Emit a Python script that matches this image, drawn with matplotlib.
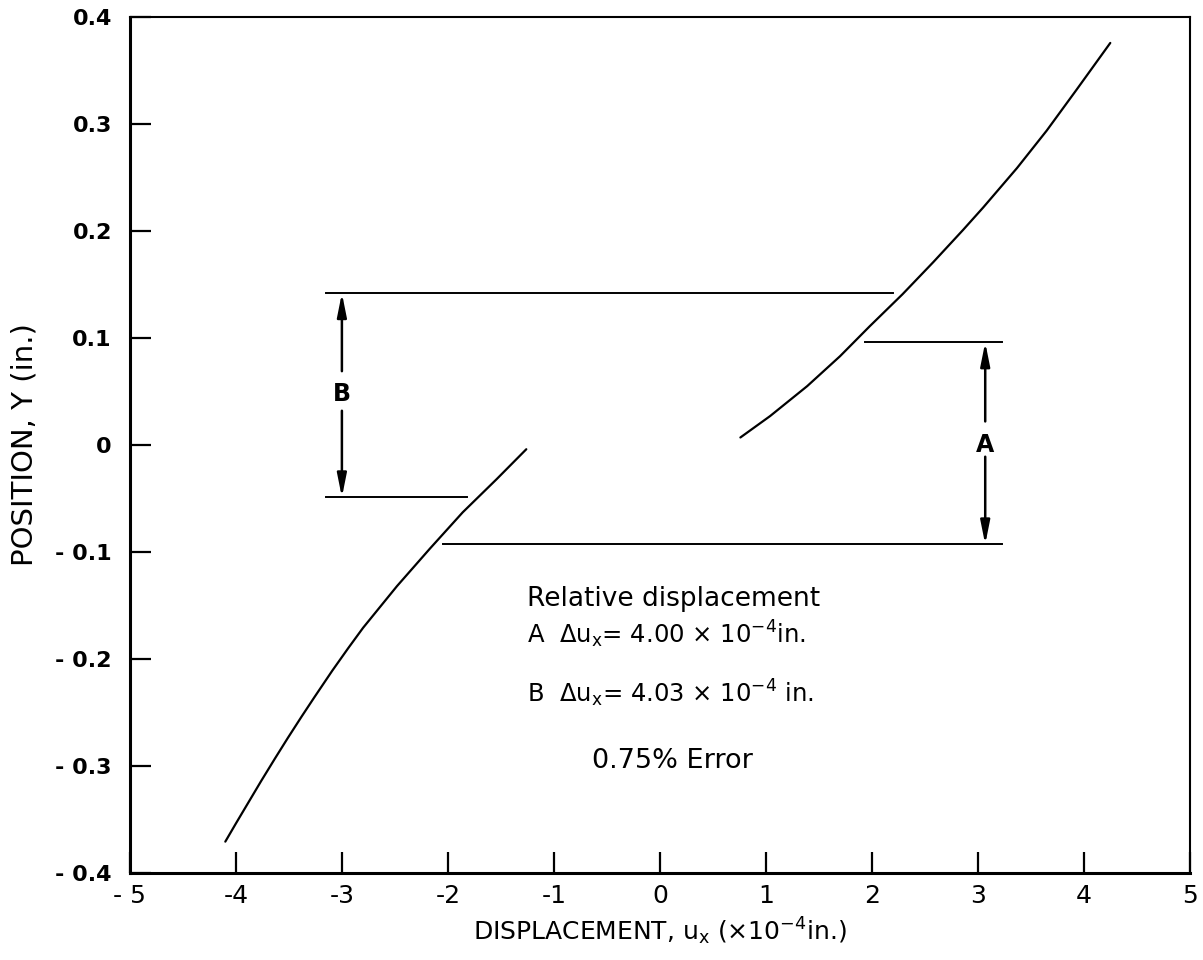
import matplotlib.pyplot as plt

plt.rcParams['font.family'] = ['DejaVu Sans']
plt.rcParams['mathtext.fontset'] = 'dejavusans'

# lower (negative) branch of the displacement profile
lower_ux = [-4.10, -4.00, -3.88, -3.76, -3.63, -3.51, -3.38, -3.26, -3.09,
            -2.94, -2.80, -2.48, -2.17, -1.86, -1.54, -1.26]
lower_y = [-0.371, -0.354, -0.334, -0.314, -0.293, -0.274, -0.254, -0.236, -0.211,
           -0.190, -0.171, -0.132, -0.097, -0.063, -0.032, -0.004]

# upper (positive) branch
upper_ux = [0.76, 1.04, 1.39, 1.70, 1.98, 2.29, 2.58, 2.86, 3.05, 3.37, 3.65, 3.93, 4.25]
upper_y = [0.007, 0.027, 0.055, 0.083, 0.111, 0.141, 0.171, 0.201, 0.222, 0.259,
           0.294, 0.332, 0.376]

# dimension lines: (y, x_start, x_end)
b_top = (0.142, -3.15, 2.20)
b_bottom = (-0.049, -3.15, -1.82)
a_top = (0.096, 1.94, 3.23)
a_bottom = (-0.093, -2.05, 3.23)
b_x, b_label_y, b_gap = -3.0, 0.048, (0.069, 0.032)
a_x, a_label_y, a_gap = 3.07, 0.0, (0.022, -0.011)

xticks = [-5, -4, -3, -2, -1, 0, 1, 2, 3, 4, 5]
xticklabels = ['- 5', '-4', '-3', '-2', '-1', '0', '1', '2', '3', '4', '5']
yticks = [-0.4, -0.3, -0.2, -0.1, 0, 0.1, 0.2, 0.3, 0.4]
yticklabels = ['- 0.4', '- 0.3', '- 0.2', '- 0.1', '0', '0.1', '0.2', '0.3', '0.4']

fig = plt.figure(figsize=(12.03, 9.6), dpi=100)
ax = fig.add_axes([0.108, 0.091, 0.881, 0.891])

ax.plot(lower_ux, lower_y, color='black', lw=1.6, solid_capstyle='round')
ax.plot(upper_ux, upper_y, color='black', lw=1.6, solid_capstyle='round')

for y, x0, x1 in (b_top, b_bottom, a_top, a_bottom):
    ax.plot([x0, x1], [y, y], color='black', lw=1.4)

arrow = dict(arrowstyle='-|>,head_length=1.0,head_width=0.2', color='black',
             lw=1.8, shrinkA=0, shrinkB=0, mutation_scale=14)
ax.annotate('', xy=(b_x, b_top[0]), xytext=(b_x, b_gap[0]), arrowprops=arrow)
ax.annotate('', xy=(b_x, b_bottom[0]), xytext=(b_x, b_gap[1]), arrowprops=arrow)
ax.annotate('', xy=(a_x, a_top[0]), xytext=(a_x, a_gap[0]), arrowprops=arrow)
ax.annotate('', xy=(a_x, a_bottom[0]), xytext=(a_x, a_gap[1]), arrowprops=arrow)
ax.text(b_x, b_label_y, 'B', ha='center', va='center', fontsize=17, fontweight='bold')
ax.text(a_x, a_label_y, 'A', ha='center', va='center', fontsize=17, fontweight='bold')

# relative displacement summary
ax.text(-1.25, -0.151, 'Relative displacement', ha='left', va='baseline', fontsize=19)
ax.text(-1.25, -0.186, r'A  $\Delta$u$_\mathsf{x}$= 4.00 × 10$^{-4}$in.',
        ha='left', va='baseline', fontsize=17.5)
ax.text(-1.25, -0.241, r'B  $\Delta$u$_\mathsf{x}$= 4.03 × 10$^{-4}$ in.',
        ha='left', va='baseline', fontsize=17.5)
ax.text(-0.64, -0.302, '0.75% Error', ha='left', va='baseline', fontsize=19.5)

ax.set_xlim(-5, 5)
ax.set_ylim(-0.4, 0.4)
ax.set_xticks(xticks)
ax.set_xticklabels(xticklabels, fontsize=18)
ax.set_yticks(yticks)
ax.set_yticklabels(yticklabels, fontsize=16, fontweight='bold')
ax.tick_params(direction='in', length=15, width=1.6, top=False, right=False)
ax.tick_params(axis='y', pad=13)
ax.tick_params(axis='x', pad=8)
for side in ('left', 'bottom'):
    ax.spines[side].set_linewidth(2.2)
for side in ('top', 'right'):
    ax.spines[side].set_linewidth(1.5)

ax.set_xlabel(r'DISPLACEMENT, u$_\mathsf{x}$ (×10$^{-4}$in.)', fontsize=18, labelpad=6)
ax.set_ylabel('POSITION, Y (in.)', fontsize=21, labelpad=12)

fig.savefig('out.png', dpi=100)
